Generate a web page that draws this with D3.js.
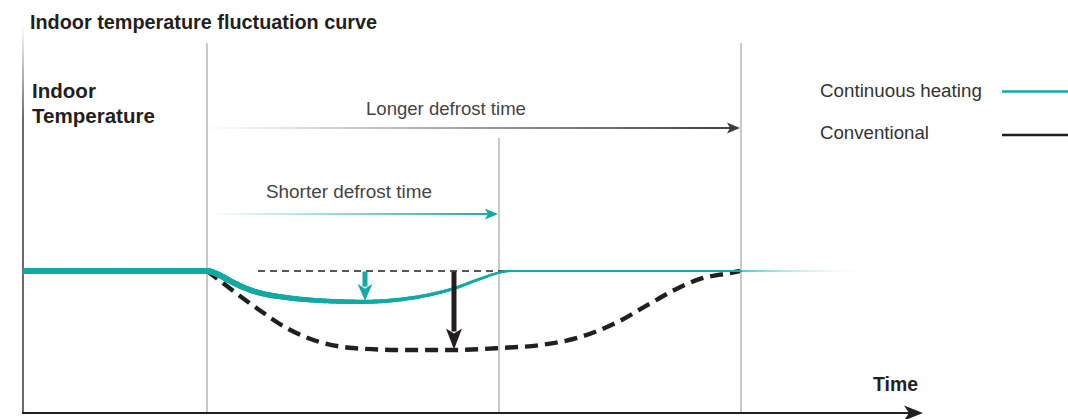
<!DOCTYPE html>
<html><head><meta charset="utf-8">
<script src="https://cdn.jsdelivr.net/npm/d3@7"></script>
<style>
body{margin:0;background:#fff}
svg{display:block}
text{font-family:"Liberation Sans",Arial,Helvetica,sans-serif}
</style>
</head><body>
<script>
// ---------------- data ----------------
const titleText = "Indoor temperature fluctuation curve";
const yLabelLines = ["Indoor", "Temperature"];
const xLabelText = "Time";
const seriesNames = ["Continuous heating", "Conventional"];
const defrostLabels = ["Longer defrost time", "Shorter defrost time"];
// time (arbitrary units) of phase markers: defrost start, continuous-heating end, conventional end
const phaseMarks = [18.4, 47.6, 71.8];
const defrostStart = 18.4;
const defrostEnds = [71.8, 47.6]; // longer (conventional), shorter (continuous)
// temperature deviation from set point (arbitrary units)
const contTime = [0, 18.4, 19.4, 20.7, 22.4, 24.0, 25.7, 29.7, 34.0, 38.4, 43.0, 45.7, 47.7, 48.7, 71.8];
const contTemp = [0, 0, -0.3, -1.0, -1.8, -2.3, -2.6, -3.0, -3.12, -2.8, -1.8, -0.8, -0.15, 0, 0];
const contTailTime = [71.8, 85.2];
const contTailTemp = [0, 0];
const convTime = [18.4, 18.8, 21.0, 23.7, 26.4, 29.7, 33.0, 37.7, 43.0, 47.7, 51.7, 55.7, 59.4, 62.7, 65.0, 67.7, 70.7, 71.7];
const convTemp = [0, -0.3, -2.0, -4.0, -5.8, -7.2, -7.8, -8.0, -8.0, -7.8, -7.5, -6.7, -5.2, -3.3, -2.0, -0.8, -0.2, 0];
const setPointRef = [23.5, 66.2]; // dashed reference line extent
const dropTimes = [34.2, 43.1];
const dropDepths = [-3.0, -7.95];

// ---------------- layout ----------------
const W = 1068, H = 419;
const TEAL = "#13a9a5", DARK = "#231f20";
const svg = d3.select("body").append("svg").attr("width", W).attr("height", H);
const defs = svg.append("defs");

const x = d3.scaleLinear().domain([0, 90]).range([23, 923]);
const y = d3.scaleLinear().domain([0, -8]).range([271, 350]);
const axisY = 413;

function grad(id, c1, c2, x1, x2, y1, y2, o1 = 1, o2 = 1) {
  const g = defs.append("linearGradient").attr("id", id)
    .attr("gradientUnits", "userSpaceOnUse")
    .attr("x1", x1).attr("x2", x2).attr("y1", y1).attr("y2", y2);
  g.append("stop").attr("offset", 0).attr("stop-color", c1).attr("stop-opacity", o1);
  g.append("stop").attr("offset", 1).attr("stop-color", c2).attr("stop-opacity", o2);
}
function fit(sel, w) {
  const n = sel.node();
  const fs = parseFloat(sel.attr("font-size"));
  const l = n.getComputedTextLength();
  sel.attr("font-size", (fs * w / l).toFixed(2));
}

// left axis (fading at top)
grad("gLeft", "#ffffff", "#444", 0, 0, 25, 120);
svg.append("line").attr("x1", 23).attr("x2", 23).attr("y1", 25).attr("y2", axisY)
  .attr("stroke", "url(#gLeft)").attr("stroke-width", 1.6);

// phase vertical lines
const vTops = [43, 138, 43];
svg.selectAll("line.phase").data(phaseMarks).join("line").attr("class", "phase")
  .attr("x1", d => x(d)).attr("x2", d => x(d))
  .attr("y1", (d, i) => vTops[i]).attr("y2", axisY)
  .attr("stroke", "#a6a6a6").attr("stroke-width", 1.2);

// x axis with arrow
svg.append("line").attr("x1", 22).attr("x2", x(89)).attr("y1", axisY).attr("y2", axisY)
  .attr("stroke", DARK).attr("stroke-width", 2.2);
svg.append("path")
  .attr("d", `M${x(90)},${axisY} L${x(90) - 19},${axisY - 7.5} L${x(90) - 14},${axisY} L${x(90) - 19},${axisY + 7.5} Z`)
  .attr("fill", DARK);

// title & labels
svg.append("text").attr("x", 30).attr("y", 29).attr("font-size", 18).attr("font-weight", "bold")
  .attr("fill", "#231f20").text(titleText).call(fit, 347);
svg.selectAll("text.ylab").data(yLabelLines).join("text").attr("class", "ylab")
  .attr("x", 32).attr("y", (d, i) => 97.5 + i * 25).attr("font-size", 19).attr("font-weight", "bold")
  .attr("fill", "#231f20").text(d => d);
{
  const t = svg.selectAll("text.ylab").filter((d, i) => i === 1);
  fit(t, 123);
  const fs = t.attr("font-size");
  svg.selectAll("text.ylab").attr("font-size", fs);
}
svg.append("text").attr("x", 873).attr("y", 391).attr("font-size", 18).attr("font-weight", "bold")
  .attr("fill", DARK).text(xLabelText).call(fit, 45);

// defrost-time arrows
grad("gLong", "#ffffff", "#3d3d3d", x(defrostStart), x(defrostEnds[0]), 0, 0);
grad("gShort", "#ffffff", TEAL, x(defrostStart), x(defrostEnds[1]), 0, 0);
const arrowY = [128, 214];
const arrowCol = ["#3d3d3d", TEAL];
const arrowFill = ["url(#gLong)", "url(#gShort)"];
defrostEnds.forEach((e, i) => {
  const xe = x(e) - 1, yy = arrowY[i];
  svg.append("line").attr("x1", x(defrostStart) + 2).attr("x2", xe - 6).attr("y1", yy).attr("y2", yy)
    .attr("stroke", arrowFill[i]).attr("stroke-width", 1.8);
  svg.append("path").attr("d", `M${xe},${yy} L${xe - 13},${yy - 5.5} L${xe - 10},${yy} L${xe - 13},${yy + 5.5} Z`)
    .attr("fill", arrowCol[i]);
});
const labX = [366, 266], labY = [115, 198], labW = [160, 166];
defrostLabels.forEach((t, i) => {
  svg.append("text").attr("x", labX[i]).attr("y", labY[i]).attr("font-size", 18)
    .attr("fill", "#444").text(t).call(fit, labW[i]);
});

// legend
const legY = [97, 139], legLineY = [91.5, 135];
const legW = [162, 109];
seriesNames.forEach((s, i) => {
  svg.append("text").attr("x", 820).attr("y", legY[i]).attr("font-size", 18)
    .attr("fill", "#333").text(s).call(fit, legW[i]);
  svg.append("line").attr("x1", 1002).attr("x2", 1068).attr("y1", legLineY[i]).attr("y2", legLineY[i])
    .attr("stroke", i === 0 ? TEAL : DARK).attr("stroke-width", 2.6);
});

// reference (set point) dashed line
svg.append("line").attr("x1", x(setPointRef[0])).attr("x2", x(setPointRef[1]))
  .attr("y1", y(0)).attr("y2", y(0))
  .attr("stroke", DARK).attr("stroke-width", 1.5).attr("stroke-dasharray", "7,5");

// conventional curve (thick dashed)
const conv = convTime.map((t, i) => [t, convTemp[i]]);
const line = d3.line().x(d => x(d[0])).y(d => y(d[1])).curve(d3.curveMonotoneX);
svg.append("path").attr("d", line(conv)).attr("fill", "none")
  .attr("stroke", DARK).attr("stroke-width", 4.4).attr("stroke-dasharray", "13,7");

// continuous heating tail (fading)
grad("gTail", TEAL, "#ffffff", x(contTailTime[0]), x(contTailTime[1]), 0, 0, 0.9, 0);
svg.append("path").attr("d", line(contTailTime.map((t, i) => [t, contTailTemp[i]])))
  .attr("fill", "none").attr("stroke", "url(#gTail)").attr("stroke-width", 1.5);

// continuous heating curve with tapering width
const cont = contTime.map((t, i) => [t, contTemp[i]]);
const tmp = svg.append("path").attr("d", line(cont)).attr("fill", "none").attr("stroke", "none");
const node = tmp.node();
const L = node.getTotalLength();
const wScale = d3.scaleLinear().domain([210, 363, 453, 505, 741]).range([6, 4.2, 3.0, 2.2, 2.0]).clamp(true);
const widthAt = px => px <= 210 ? 6 : wScale(px);
const pts = [];
for (let s = 0; s <= L; s += 1.5) pts.push(node.getPointAtLength(s));
pts.push(node.getPointAtLength(L));
const g = svg.append("g");
for (let k = 1; k < pts.length; k++) {
  const a = pts[k - 1], b = pts[k];
  g.append("line").attr("x1", a.x).attr("y1", a.y).attr("x2", b.x).attr("y2", b.y)
    .attr("stroke", TEAL).attr("stroke-width", widthAt((a.x + b.x) / 2))
    .attr("stroke-linecap", a.x < 25 ? "butt" : "round");
}
tmp.remove();

// drop arrows
const dropCol = [TEAL, DARK], dropW = [5, 5], headW = [7.5, 8], headH = [17, 21];
dropTimes.forEach((t, i) => {
  const xx = x(t), y0 = y(0) + 0.5, y1 = y(dropDepths[i]);
  svg.append("line").attr("x1", xx).attr("x2", xx).attr("y1", y0).attr("y2", y1 - headH[i] + 3)
    .attr("stroke", dropCol[i]).attr("stroke-width", dropW[i]);
  svg.append("path")
    .attr("d", `M${xx},${y1} L${xx - headW[i]},${y1 - headH[i]} L${xx},${y1 - headH[i] + 5} L${xx + headW[i]},${y1 - headH[i]} Z`)
    .attr("fill", dropCol[i]);
});
</script>
</body></html>
